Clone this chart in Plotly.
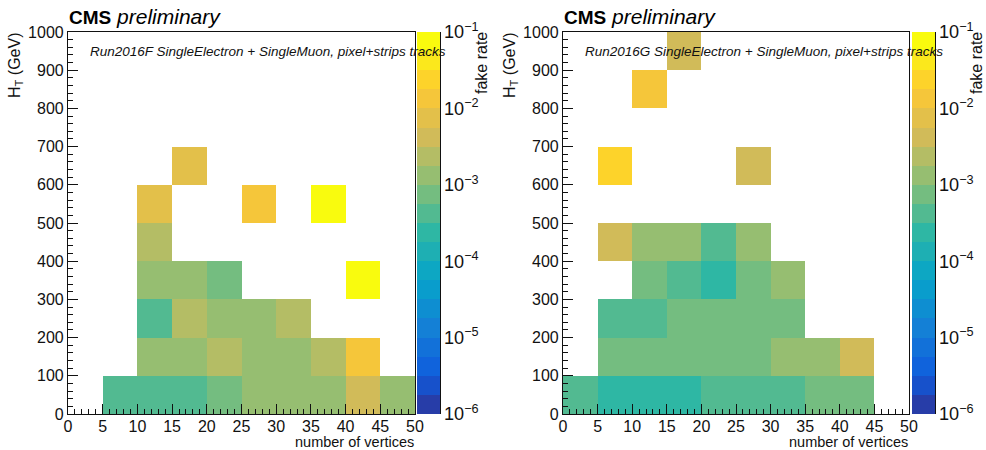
import math
import plotly.graph_objects as go

# ---------------- data ----------------
x_edges = [0, 5, 10, 15, 20, 25, 30, 35, 40, 45, 50]
y_edges = [0, 100, 200, 300, 400, 500, 600, 700, 800, 900, 1000]
x_ticks = [0, 5, 10, 15, 20, 25, 30, 35, 40, 45, 50]
y_ticks = [0, 100, 200, 300, 400, 500, 600, 700, 800, 900, 1000]

N = None
# fake rate, rows = H_T bins (0-100 ... 900-1000), cols = nvtx bins (0-5 ... 45-50)
fake_rate_2016F = [
    [N, 4.2e-4, 4.2e-4, 4.2e-4, 7.5e-4, 1.33e-3, 1.33e-3, 1.33e-3, 4.2e-3, 1.33e-3],
    [N, N, 1.33e-3, 1.33e-3, 2.37e-3, 1.33e-3, 1.33e-3, 2.37e-3, 1.33e-2, N],
    [N, N, 4.2e-4, 2.37e-3, 1.33e-3, 1.33e-3, 2.37e-3, N, N, N],
    [N, N, 1.33e-3, 1.33e-3, 7.5e-4, N, N, N, 7.5e-2, N],
    [N, N, 2.37e-3, N, N, N, N, N, N, N],
    [N, N, 7.5e-3, N, N, 1.33e-2, N, 7.5e-2, N, N],
    [N, N, N, 7.5e-3, N, N, N, N, N, N],
    [N, N, N, N, N, N, N, N, N, N],
    [N, N, N, N, N, N, N, N, N, N],
    [N, N, N, N, N, N, N, N, N, N],
]
fake_rate_2016G = [
    [4.2e-4, 2.37e-4, 2.37e-4, 2.37e-4, 4.2e-4, 4.2e-4, 4.2e-4, 7.5e-4, 7.5e-4, N],
    [N, 7.5e-4, 7.5e-4, 7.5e-4, 7.5e-4, 7.5e-4, 1.33e-3, 1.33e-3, 4.2e-3, N],
    [N, 4.2e-4, 4.2e-4, 7.5e-4, 7.5e-4, 7.5e-4, 7.5e-4, N, N, N],
    [N, N, 7.5e-4, 4.2e-4, 2.37e-4, 7.5e-4, 1.33e-3, N, N, N],
    [N, 4.2e-3, 1.33e-3, 1.33e-3, 4.2e-4, 1.33e-3, N, N, N, N],
    [N, N, N, N, N, N, N, N, N, N],
    [N, 2.37e-2, N, N, N, 4.2e-3, N, N, N, N],
    [N, N, N, N, N, N, N, N, N, N],
    [N, N, 1.33e-2, N, N, N, N, N, N, N],
    [N, N, N, 4.2e-3, N, N, N, N, N, N],
]
labels = [
    "Run2016F SingleElectron + SingleMuon, pixel+strips tracks",
    "Run2016G SingleElectron + SingleMuon, pixel+strips tracks",
]
z_min_log, z_max_log = -6, -1
n_contours = 20

# ---------------- palette (ROOT kBird, 20 contour levels) ----------------
stops = [0.0, 0.125, 0.25, 0.375, 0.5, 0.625, 0.75, 0.875, 1.0]
red = [0.2082, 0.0592, 0.0780, 0.0232, 0.1802, 0.5301, 0.8186, 0.9956, 0.9764]
green = [0.1664, 0.3599, 0.5041, 0.6419, 0.7178, 0.7492, 0.7328, 0.7862, 0.9832]
blue = [0.5293, 0.8684, 0.8385, 0.7914, 0.6425, 0.4662, 0.3499, 0.1968, 0.0539]


def bird(f):
    for k in range(len(stops) - 1):
        if stops[k] <= f <= stops[k + 1]:
            t = (f - stops[k]) / (stops[k + 1] - stops[k])
            r = red[k] + t * (red[k + 1] - red[k])
            g = green[k] + t * (green[k + 1] - green[k])
            b = blue[k] + t * (blue[k + 1] - blue[k])
            return "rgb(%d,%d,%d)" % (round(r * 255), round(g * 255), round(b * 255))
    return "rgb(0,0,0)"


colorscale = []
for i in range(n_contours):
    idx = int((i + 0.99) * 255 / n_contours)
    col = bird(min(idx, 254) / 254)
    colorscale.append([i / n_contours, col])
    colorscale.append([(i + 1) / n_contours, col])

x_centers = [(a + b) / 2 for a, b in zip(x_edges[:-1], x_edges[1:])]
y_centers = [(a + b) / 2 for a, b in zip(y_edges[:-1], y_edges[1:])]


def to_log(z):
    return [[(math.log10(v) if v is not None else None) for v in row] for row in z]


W, H = 986, 450
FONT = "Liberation Sans, Arial, Helvetica, sans-serif"

# pixel layout of the two pads
pads = [
    dict(x0=68, x1=415, cb0=417, cb1=440, ftx=482, htx=15),
    dict(x0=563, x1=909, cb0=912, cb1=935, ftx=977, htx=510),
]
y_top, y_bot = 32, 414

fig = go.Figure()
annotations = []

for p, (z, lab, pad) in enumerate(zip([fake_rate_2016F, fake_rate_2016G], labels, pads)):
    n = "" if p == 0 else "2"
    cax = "coloraxis" if p == 0 else "coloraxis2"
    fig.add_trace(go.Heatmap(
        x=x_centers, y=y_centers, z=to_log(z),
        xaxis="x" + n, yaxis="y" + n, coloraxis=cax,
        hoverongaps=False, xgap=0, ygap=0,
    ))
    # dummy trace for the colour-bar log axis
    ax_log = "y3" if p == 0 else "y4"
    fig.add_trace(go.Scatter(x=[None], y=[None], xaxis="x" + n, yaxis=ax_log,
                             mode="markers", showlegend=False, hoverinfo="skip"))

    xdom = [pad["x0"] / W, pad["x1"] / W]
    ydom = [1 - y_bot / H, 1 - y_top / H]
    axis_common = dict(
        showline=True, linecolor="#111", linewidth=1.2, mirror=True,
        ticks="inside", ticklen=10, tickcolor="#111", tickwidth=1.2,
        showgrid=False, zeroline=False,
        tickfont=dict(family=FONT, size=16, color="#111"),
    )
    fig.layout["xaxis" + n] = dict(
        domain=xdom, range=[x_edges[0], x_edges[-1]], tickvals=x_ticks,
        anchor="y" + n, automargin=False, ticklabelstandoff=-2,
        minor=dict(ticks="inside", ticklen=5, dtick=1, tickcolor="#111", showgrid=False),
        **axis_common,
    )
    fig.layout["yaxis" + n] = dict(
        domain=ydom, range=[y_edges[0], y_edges[-1]], tickvals=y_ticks,
        anchor="x" + n, automargin=False,
        minor=dict(ticks="inside", ticklen=5, dtick=20, tickcolor="#111", showgrid=False),
        **axis_common,
    )
    # log axis that carries the colour-bar ticks
    fig.layout["yaxis" + ("3" if p == 0 else "4")] = dict(
        overlaying="y" + n, anchor="free", position=pad["cb1"] / W, side="right",
        type="log", range=[z_min_log, z_max_log], dtick=1, exponentformat="power",
        showline=True, linecolor="#111", linewidth=1.2, automargin=False,
        ticks="inside", ticklen=10, tickcolor="#111", tickwidth=1.2,
        minor=dict(ticks="inside", ticklen=5, dtick="D1", tickcolor="#111", showgrid=False),
        showgrid=False, zeroline=False,
        tickfont=dict(family=FONT, size=14.5, color="#111"),
    )
    fig.layout[cax] = dict(
        cmin=z_min_log, cmax=z_max_log, colorscale=colorscale,
        colorbar=dict(
            x=pad["cb0"] / W, xanchor="left", thickness=pad["cb1"] - pad["cb0"],
            thicknessmode="pixels", len=(y_bot - y_top) / H, lenmode="fraction",
            y=1 - y_bot / H, yanchor="bottom", xpad=0, ypad=0,
            outlinewidth=0, ticks="", showticklabels=False,
        ),
    )

    # texts
    annotations += [
        dict(x=pad["x0"] / W - 0.001, y=1 - 16 / H, xref="paper", yref="paper",
             xanchor="left", yanchor="middle", showarrow=False,
             text="<b>CMS</b><span style='font-size:21px'> <i>preliminary</i></span>",
             font=dict(family=FONT, size=19, color="black")),
        dict(x=(pad["x0"] + 20) / W, y=1 - 52 / H, xref="paper", yref="paper",
             xanchor="left", yanchor="middle", showarrow=False,
             text="<i>" + lab + "</i>", font=dict(family=FONT, size=13.5, color="#111")),
        dict(x=pad["x1"] / W, y=1 - 441.5 / H, xref="paper", yref="paper",
             xanchor="right", yanchor="middle", showarrow=False, borderpad=0,
             text="number of vertices", font=dict(family=FONT, size=14.5, color="#111")),
        dict(x=pad["htx"] / W, y=1 - 30 / H, xref="paper", yref="paper",
             xanchor="center", yanchor="top", showarrow=False, textangle=-90,
             text="H<sub>T</sub> (GeV)", font=dict(family=FONT, size=16, color="#111")),
        dict(x=pad["ftx"] / W, y=1 - 30 / H, xref="paper", yref="paper",
             xanchor="center", yanchor="top", showarrow=False, textangle=-90,
             text="fake rate", font=dict(family=FONT, size=16, color="#111")),
    ]

fig.update_layout(
    width=W, height=H, margin=dict(l=0, r=0, t=0, b=0, autoexpand=False),
    paper_bgcolor="white", plot_bgcolor="white",
    showlegend=False, annotations=annotations,
    font=dict(family=FONT, color="#111"),
)

fig.write_html(
    "out.html",
    config={"displayModeBar": False},
    post_script="document.body.style.margin='0';document.body.style.padding='0';",
)
